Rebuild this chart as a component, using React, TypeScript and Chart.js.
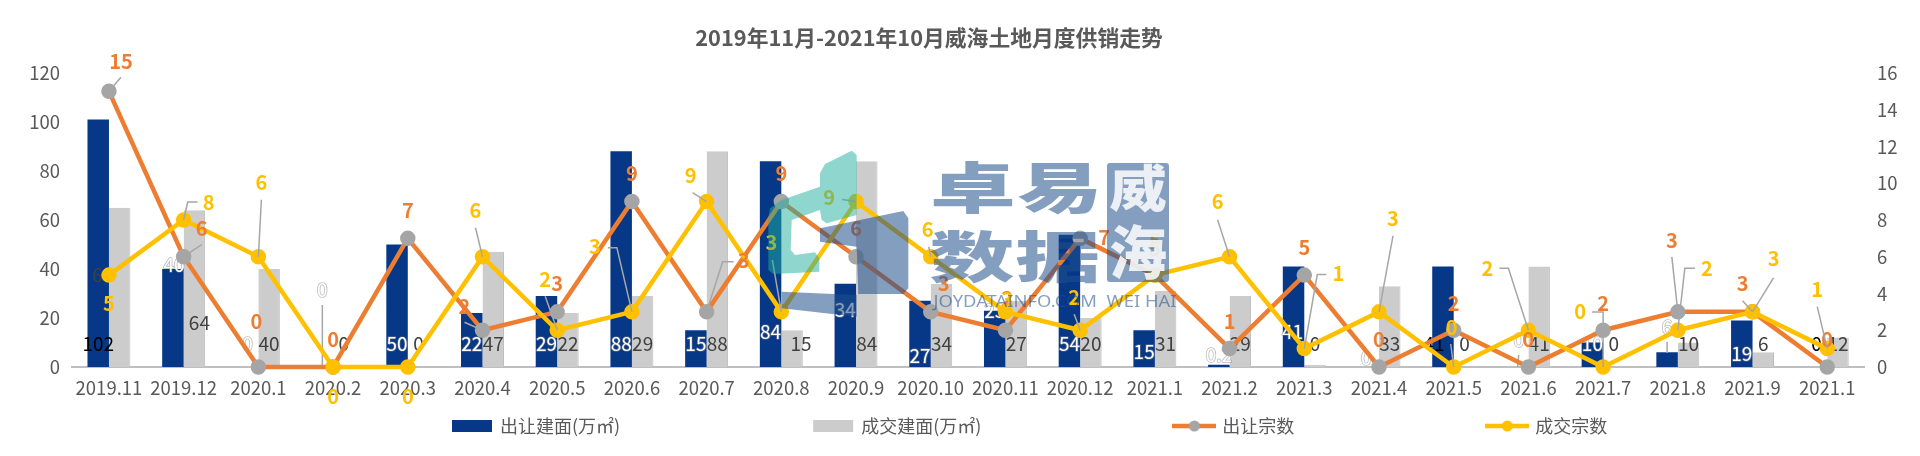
import React, { useEffect, useRef } from "react";
import { Chart, registerables } from "chart.js";

Chart.register(...registerables);

const categories = ["2019.11","2019.12","2020.1","2020.2","2020.3","2020.4","2020.5","2020.6","2020.7","2020.8","2020.9","2020.10","2020.11","2020.12","2021.1","2021.2","2021.3","2021.4","2021.5","2021.6","2021.7","2021.8","2021.9","2021.1"];
const supplyArea = [101,40,0,0,50,22,29,88,15,84,34,27,23,54,15,0.9,41,0,41,0,10,6,19,0];
const dealArea = [65,64,40,0,0,47,22,29,88,15,84,34,27,20,31,29,0.9,33,0,41,0,10,6,12];
const supplyCount = [15,6,0,0,7,2,3,9,3,9,6,3,2,7,5,1,5,0,2,0,2,3,3,0];
const dealCount = [5,8,6,0,0,6,2,3,9,3,9,6,3,2,5,6,1,3,0,2,0,2,3,1];
const supplyAreaLabels = ["102","40","0","0","50","22","29","88","15","84","34","27","23","54","15","0.2","41","0","41","0","10","6","19","0"];
const dealAreaLabels = ["65","64","40","0","0","47","22","29","88","15","84","34","27","20","31","29","0","33","0","41","0","10","6","12"];
const seriesNames = ["出让建面(万㎡)","成交建面(万㎡)","出让宗数","成交宗数"];
const titleText = "2019年11月-2021年10月威海土地月度供销走势";

// label placement, relative to the bar (x centre, zero line) or to the point
const supplyAreaOffsets: number[][] = [[0,-23],[1,-102],[0,-23],[0,-77],[0,-23],[0,-23],[0,-23],[0,-23],[0,-23],[0,-35],[0,-57],[0,-11],[0,-56],[0,-23],[0,-15],[0,-12],[-1,-35],[-2,-9],[-9,-23],[1,-27],[0,-23],[0,-40],[0,-13],[0,-23]];
const dealAreaOffsets: number[][] = [[-17,-92],[5,-44],[0,-23],[0,-23],[0,-23],[0,-23],[0,-23],[0,-23],[0,-23],[9,-23],[0,-23],[0,-23],[0,-23],[0,-23],[0,-23],[0,-23],[0,-23],[0,-23],[0,-23],[0,-23],[0,-23],[0,-23],[0,-23],[0,-23]];
const supplyCountOffsets: number[][] = [[12,-30],[18,-28],[-2,-46],[0,-28],[0,-28],[-18,-24],[0,-28],[0,-28],[37,-51],[0,-28],[0,-28],[13,-28],[2,-32],[24,-1],[0,-27],[0,-27],[0,-28],[0,-28],[0,-27],[0,-28],[0,-27],[-6,-71],[-10,-28],[0,-28]];
const dealCountOffsets: number[][] = [[0,28],[25,-18],[3,-74],[0,29],[0,29],[-7,-46],[-12,-51],[-37,-65],[-16,-26],[-10,-69],[-27,-4],[-3,-27],[2,-12],[-6,-33],[0,-35],[-12,-55],[34,-75],[14,-93],[-2,-40],[-41,-62],[-23,-56],[29,-62],[21,-53],[-10,-59]];
const supplyAreaLeaders: Record<number, number[][]> = { 3: [[0,-62],[0,0]], 19: [[1,-12],[0,0]], 21: [[0,-25],[0,-14]] };
const supplyCountLeaders: Record<number, number[][]> = { 0: [[0,0],[12,-14]], 1: [[0,0],[18,-12]], 5: [[0,0],[-18,-8]], 8: [[0,0],[16,-50],[27,-50]], 21: [[0,0],[-6,-55]], 22: [[0,0],[-10,-11]] };
const dealCountLeaders: Record<number, number[][]> = { 1: [[0,0],[4,-18],[14,-18]], 2: [[0,0],[3,-57]], 5: [[0,0],[-7,-29]], 6: [[0,0],[-12,-34]], 7: [[0,0],[-15,-64],[-24,-64]], 8: [[0,0],[-14,-9]], 9: [[0,0],[-9,-52]], 10: [[0,0],[-14,-2]], 11: [[0,0],[-2,-10]], 13: [[0,0],[-6,-16]], 15: [[0,0],[-12,-37]], 16: [[0,0],[13,-74],[22,-74]], 17: [[0,0],[14,-76]], 18: [[0,0],[-3,-23]], 19: [[0,0],[-20,-62],[-29,-62]], 20: [[0,0],[0,-55],[-11,-55]], 21: [[0,0],[7,-62],[17,-62]], 22: [[0,0],[21,-34]], 23: [[0,0],[-10,-42]] };
const blackSupplyLabels = [0, 18, 23];

const FONT = '"Noto Sans CJK SC", "Noto Sans", sans-serif';
const NAVY = "#073887";
const LIGHT = "#CDCCCD";
const ORANGE = "#ED7D31";
const MARKER = "#A5A5A5";
const YELLOW = "#FFC000";
const TEXT = "#595959";
const LEADER = "#A6A6A6";

function swatch(kind: "rect" | "line", color: string, marker?: string) {
  const c = document.createElement("canvas");
  c.width = 44;
  c.height = 14;
  const g = c.getContext("2d")!;
  if (kind === "rect") {
    g.fillStyle = color;
    g.fillRect(2, 1, 40, 12);
  } else {
    g.strokeStyle = color;
    g.lineWidth = 4.5;
    g.beginPath();
    g.moveTo(0, 7);
    g.lineTo(44, 7);
    g.stroke();
    g.fillStyle = marker!;
    g.beginPath();
    g.arc(22, 7, 5.5, 0, Math.PI * 2);
    g.fill();
  }
  return c;
}

function drawLeader(ctx: CanvasRenderingContext2D, x: number, y: number, pts?: number[][]) {
  if (!pts) return;
  ctx.save();
  ctx.strokeStyle = LEADER;
  ctx.lineWidth = 1.5;
  ctx.beginPath();
  pts.forEach((p, i) => (i ? ctx.lineTo(x + p[0], y + p[1]) : ctx.moveTo(x + p[0], y + p[1])));
  ctx.stroke();
  ctx.restore();
}

const layoutTweaks = {
  id: "layoutTweaks",
  afterLayout(chart: any) {
    chart.titleBlock.left -= 31;
    chart.titleBlock.right -= 31;
    const pad = chart.legend.options.labels.padding;
    chart.legend.left = 453 - pad;
    chart.legend.right = 1920;
    chart.legend.top = 417 - pad;
    chart.legend.bottom = 456;
  },
};

const valueLabels = {
  id: "valueLabels",
  afterDatasetDraw(chart: any, args: any) {
    if (args.index !== 0) return; // navy bars are the last bars painted
    const ctx: CanvasRenderingContext2D = chart.ctx;
    const base = chart.scales.y.getPixelForValue(0);
    ctx.save();
    ctx.font = `19px ${FONT}`;
    ctx.textAlign = "center";
    ctx.textBaseline = "middle";
    ctx.lineJoin = "round";
    chart.getDatasetMeta(1).data.forEach((bar: any, i: number) => {
      const o = dealAreaOffsets[i];
      ctx.fillStyle = "#404040";
      ctx.fillText(dealAreaLabels[i], bar.x + o[0], base + o[1]);
    });
    chart.getDatasetMeta(0).data.forEach((bar: any, i: number) => {
      const o = supplyAreaOffsets[i];
      drawLeader(ctx, bar.x, base, supplyAreaLeaders[i]);
      const x = bar.x + o[0];
      const y = base + o[1];
      if (blackSupplyLabels.includes(i)) {
        ctx.fillStyle = "#000000";
      } else {
        ctx.strokeStyle = "rgba(130,130,130,0.55)";
        ctx.lineWidth = 1.6;
        ctx.strokeText(supplyAreaLabels[i], x, y);
        ctx.fillStyle = "#FFFFFF";
      }
      ctx.fillText(supplyAreaLabels[i], x, y);
    });
    ctx.restore();
  },
  afterDatasetsDraw(chart: any) {
    const ctx: CanvasRenderingContext2D = chart.ctx;
    ctx.save();
    ctx.font = `bold 20px ${FONT}`;
    ctx.textAlign = "center";
    ctx.textBaseline = "middle";
    const series = [
      { idx: 2, vals: supplyCount, off: supplyCountOffsets, lead: supplyCountLeaders, color: ORANGE },
      { idx: 3, vals: dealCount, off: dealCountOffsets, lead: dealCountLeaders, color: YELLOW },
    ];
    series.forEach((s) => {
      chart.getDatasetMeta(s.idx).data.forEach((pt: any, i: number) => {
        drawLeader(ctx, pt.x, pt.y, s.lead[i]);
        ctx.fillStyle = s.color;
        ctx.fillText(String(s.vals[i]), pt.x + s.off[i][0], pt.y + s.off[i][1]);
      });
    });
    ctx.restore();
  },
};

function poly(ctx: CanvasRenderingContext2D, pts: number[][]) {
  ctx.beginPath();
  pts.forEach((p, i) => (i ? ctx.lineTo(p[0], p[1]) : ctx.moveTo(p[0], p[1])));
  ctx.closePath();
  ctx.fill();
}

function stretched(ctx: CanvasRenderingContext2D, text: string, cx: number, cy: number, size: number, sx: number) {
  ctx.save();
  ctx.translate(cx, cy);
  ctx.scale(sx, 1);
  ctx.font = `900 ${size}px "Noto Sans CJK SC"`;
  ctx.textAlign = "center";
  ctx.textBaseline = "middle";
  ctx.fillText(text, 0, 0);
  ctx.restore();
}

const watermark = {
  id: "watermark",
  afterDraw(chart: any) {
    const ctx: CanvasRenderingContext2D = chart.ctx;
    const blue = "rgba(31,78,140,0.55)";
    ctx.save();
    ctx.save();
    ctx.translate(760, 140);
    ctx.scale(1 / 3, 1 / 3);
    ctx.fillStyle = "rgba(31,173,159,0.5)";
    poly(ctx, [[65,180],[180,140],[180,100],[195,72],[275,32],[290,45],[290,225],[200,250],[185,240],[180,210],[95,240],[92,330],[105,345],[165,337],[178,355],[178,395],[40,402],[25,390],[25,230],[30,205]]);
    ctx.fillStyle = blue;
    poly(ctx, [[180,265],[430,213],[445,235],[445,445],[430,462],[295,462],[290,320],[180,305]]);
    poly(ctx, [[65,455],[290,465],[290,530],[65,505]]);
    ctx.restore();
    ctx.fillStyle = blue;
    stretched(ctx, "卓", 973, 187, 55, 1.55);
    stretched(ctx, "易", 1060, 187, 55, 1.55);
    stretched(ctx, "数", 972, 256, 55, 1.55);
    stretched(ctx, "据", 1058, 256, 55, 1.55);
    ctx.beginPath();
    ctx.roundRect(1107, 163, 62, 119, 3);
    ctx.fill();
    ctx.fillStyle = "rgba(255,255,255,0.85)";
    stretched(ctx, "威", 1138, 188, 50, 1.15);
    stretched(ctx, "海", 1138, 252, 58, 1.0);
    ctx.fillStyle = blue;
    ctx.save();
    ctx.font = `16px "Noto Sans"`;
    const word = "JOYDATAINFO.COM  WEI HAI";
    const w = ctx.measureText(word).width;
    ctx.translate(1055, 302);
    ctx.scale(243 / w, 1);
    ctx.textAlign = "center";
    ctx.textBaseline = "middle";
    ctx.fillText(word, 0, 0);
    ctx.restore();
    ctx.restore();
  },
};

export default function App() {
  const ref = useRef<HTMLCanvasElement>(null);
  useEffect(() => {
    const icons = [
      swatch("rect", NAVY),
      swatch("rect", LIGHT),
      swatch("line", ORANGE, MARKER),
      swatch("line", YELLOW, YELLOW),
    ];
    const chart = new Chart(ref.current!, {
      type: "bar",
      data: {
        labels: categories,
        datasets: [
          { type: "bar", label: seriesNames[0], data: supplyArea, backgroundColor: NAVY, yAxisID: "y", order: 3, barPercentage: 1, categoryPercentage: 0.575 },
          { type: "bar", label: seriesNames[1], data: dealArea, backgroundColor: LIGHT, borderColor: "#BDBDBD", borderWidth: { right: 1, left: 0, top: 0, bottom: 0 }, yAxisID: "y", order: 4, barPercentage: 1, categoryPercentage: 0.575 },
          { type: "line", label: seriesNames[2], data: supplyCount, borderColor: ORANGE, backgroundColor: MARKER, pointBackgroundColor: MARKER, pointBorderColor: MARKER, pointRadius: 5.5, borderWidth: 4.5, tension: 0, yAxisID: "y1", order: 2, clip: false },
          { type: "line", label: seriesNames[3], data: dealCount, borderColor: YELLOW, backgroundColor: YELLOW, pointBackgroundColor: YELLOW, pointBorderColor: YELLOW, pointRadius: 5.5, borderWidth: 4.5, tension: 0, yAxisID: "y1", order: 1, clip: false },
        ] as any,
      },
      options: {
        responsive: false,
        animation: false,
        layout: { padding: 0 },
        plugins: {
          title: {
            display: true,
            text: titleText,
            color: TEXT,
            font: { family: FONT, size: 21.8, weight: "bold", lineHeight: 1.2 },
            padding: { top: 25, bottom: 21.8 },
          },
          legend: {
            display: true,
            position: "bottom",
            align: "start",
            maxHeight: 40,
            labels: {
              usePointStyle: true,
              pointStyleWidth: 38,
              padding: 194,
              color: TEXT,
              font: { family: FONT, size: 18 },
              generateLabels: () =>
                seriesNames.map((text, i) => ({ text, pointStyle: icons[i], datasetIndex: i, lineWidth: 0, fontColor: TEXT })) as any,
            },
          },
          tooltip: { enabled: false },
        },
        scales: {
          x: {
            offset: true,
            grid: { display: false, drawTicks: false },
            border: { display: true, color: "#BFBFBF", width: 2 },
            ticks: { color: TEXT, font: { family: FONT, size: 18.5 }, padding: 10, autoSkip: false, maxRotation: 0 },
            afterFit: (s: any) => { s.height = 49; },
          },
          y: {
            position: "left",
            min: 0,
            max: 120,
            grid: { display: false, drawTicks: false },
            border: { display: false },
            ticks: { stepSize: 20, color: TEXT, font: { family: FONT, size: 18.5 }, padding: 11.6 },
            afterFit: (s: any) => { s.width = 71.6; },
          },
          y1: {
            position: "right",
            min: 0,
            max: 16,
            grid: { display: false, drawTicks: false },
            border: { display: false },
            ticks: { stepSize: 2, color: TEXT, font: { family: FONT, size: 18.5 }, padding: 12.4 },
            afterFit: (s: any) => { s.width = 55.4; },
          },
        },
      } as any,
      plugins: [layoutTweaks, valueLabels, watermark],
    });
    return () => chart.destroy();
  }, []);
  return (
    <div style={{ position: "fixed", left: 0, top: 0, width: 1920, height: 456, background: "#fff" }}>
      <canvas ref={ref} width={1920} height={456} style={{ display: "block" }} />
    </div>
  );
}
